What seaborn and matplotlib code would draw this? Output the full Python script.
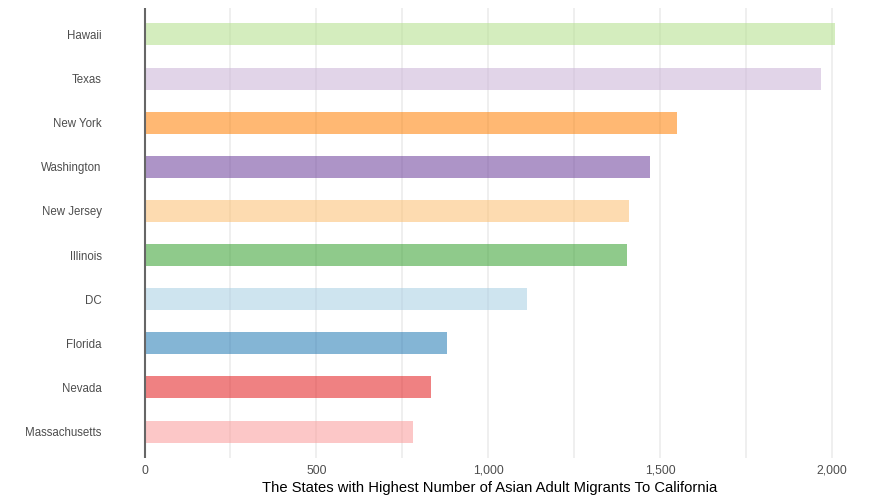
import matplotlib
matplotlib.use("Agg")
import matplotlib.pyplot as plt
import seaborn as sns
import pandas as pd
from matplotlib.ticker import FuncFormatter, MultipleLocator

states = ["Hawaii", "Texas", "New York", "Washington", "New Jersey",
          "Illinois", "DC", "Florida", "Nevada", "Massachusetts"]
migrants = [2010, 1968, 1549, 1471, 1410, 1404, 1113, 881, 834, 782]
bar_colors = ["#b2df8a", "#cab2d6", "#ff7f00", "#6a3d9a", "#fdbf6f",
              "#33a02c", "#a6cee3", "#1f78b4", "#e31a1c", "#fb9a99"]

df = pd.DataFrame({"state": states, "migrants": migrants})

sns.set_theme(style="white")
plt.rcParams['font.family'] = ['Liberation Sans', 'DejaVu Sans']

fig = plt.figure(figsize=(8.77, 5), dpi=100)
ax = fig.add_axes([110 / 877, 1 - 458 / 500, 760 / 877, 450 / 500])

sns.barplot(data=df, x="migrants", y="state", hue="state", palette=bar_colors,
            order=states, orient="h", width=0.5, alpha=0.55, legend=False,
            saturation=1, linewidth=0, ax=ax)

ax.set_xlim(-100.5, 2110.5)
ax.set_ylim(9.6, -0.6)
ax.xaxis.set_major_locator(MultipleLocator(500))
ax.xaxis.set_minor_locator(MultipleLocator(250))
ax.xaxis.set_major_formatter(FuncFormatter(lambda v, p: f"{int(v):,}"))
ax.grid(axis="x", which="both", color="#ebebeb", linewidth=1.1)
ax.set_axisbelow(True)
ax.axvline(0, color="#666666", linewidth=1.5)
for s in ax.spines.values():
    s.set_visible(False)
ax.tick_params(axis="both", which="both", length=0, labelcolor="#4d4d4d", pad=5)
ax.tick_params(axis="x", labelsize=8.8)
ax.tick_params(axis="y", labelsize=8.3, pad=6)
ax.set_ylabel("")
ax.set_xlabel("The States with Highest Number of Asian Adult Migrants To California",
              fontsize=10.6, color="black", labelpad=3)

fig.savefig("out.png", dpi=100)
